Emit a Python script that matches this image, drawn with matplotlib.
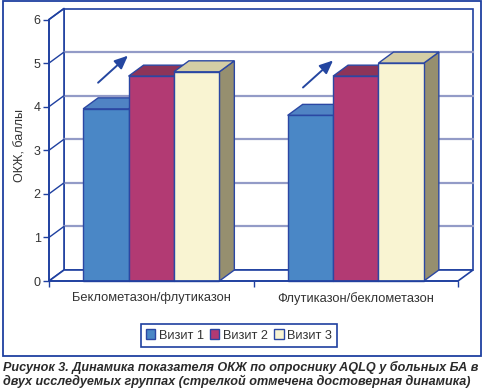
import matplotlib
matplotlib.use('Agg')
import matplotlib.pyplot as plt
from matplotlib.patches import Polygon, Rectangle, Patch

plt.rcParams['font.family'] = ['Liberation Sans', 'DejaVu Sans']

# data
groups = ['Беклометазон/флутиказон', 'Флутиказон/беклометазон']
visits = ['Визит 1', 'Визит 2', 'Визит 3']
visit1 = [3.95, 3.8]
visit2 = [4.7, 4.7]
visit3 = [4.8, 5.0]
y_ticks = [0, 1, 2, 3, 4, 5, 6]
y_label = 'ОКЖ, баллы'
caption = ('Рисунок 3. Динамика показателя ОКЖ по опроснику AQLQ у больных БА в\n'
           'двух исследуемых группах (стрелкой отмечена достоверная динамика)')

# arrows marking the significant change (data coords: tail, head)
arrow_xy = [((0.24, 4.55), (0.386, 5.17)),
            ((1.242, 4.44), (1.389, 5.06))]

C_FRONT = ['#4A87C6', '#B23A73', '#F9F4D2']
C_TOP = ['#5083C4', '#8D3459', '#D4CDA5']
C_SIDE = ['#3F6FA8', '#7A2C4E', '#968F6F']
EDGE = '#2B47A3'
AXC = '#1F40A0'
GRIDC = '#939BC7'
TXT = '#333333'

W, H = 484, 391
fig = plt.figure(figsize=(W / 100, H / 100), dpi=100)
# front plane of the 3D box, in pixels: x 49..458, y(0)=281, y(6)=19.5
ax = fig.add_axes([49 / W, 1 - 281 / H, 409 / W, 261.5 / H])
ax.set_xlim(0, 2)
ax.set_ylim(0, 6)
ax.patch.set_alpha(0)

DX = 15 / 409 * 2      # depth offset, data units
DY = 11 / 43.6
ymax = y_ticks[-1]
nx = len(groups)

# back wall
ax.add_patch(Rectangle((DX, DY), nx, ymax, facecolor='white', edgecolor=AXC,
                       lw=1.2, zorder=0, clip_on=False))
# left wall + floor
ax.add_patch(Polygon([(0, 0), (DX, DY), (DX, ymax + DY), (0, ymax)], closed=True,
                     facecolor='white', edgecolor=AXC, lw=1.2, zorder=0.5, clip_on=False))
ax.add_patch(Polygon([(0, 0), (nx, 0), (nx + DX, DY), (DX, DY)], closed=True,
                     facecolor='white', edgecolor=AXC, lw=1.2, zorder=0.5, clip_on=False))
for v in y_ticks[1:-1]:
    ax.plot([DX, nx + DX], [v + DY, v + DY], color=GRIDC, lw=1.6, zorder=1, clip_on=False)
for v in y_ticks[1:]:
    ax.plot([0, DX], [v, v + DY], color=AXC, lw=1.0, zorder=1, clip_on=False)

# bars
bw = 0.222
off = 0.167
for g in range(nx):
    for i, vals in enumerate([visit1, visit2, visit3]):
        v = vals[g]
        x0 = g + off + i * bw
        x1 = x0 + bw
        z = 3 + g * 3 + i
        ax.add_patch(Polygon([(x1, 0), (x1 + DX, DY), (x1 + DX, v + DY), (x1, v)], closed=True,
                             facecolor=C_SIDE[i], edgecolor=EDGE, lw=1.0, zorder=z, clip_on=False))
        ax.add_patch(Polygon([(x0, v), (x1, v), (x1 + DX, v + DY), (x0 + DX, v + DY)], closed=True,
                             facecolor=C_TOP[i], edgecolor=EDGE, lw=1.0, zorder=z, clip_on=False))
        ax.add_patch(Rectangle((x0, 0), bw, v, facecolor=C_FRONT[i], edgecolor=EDGE,
                               lw=1.0, zorder=z + 0.5, clip_on=False))

for (tail, head) in arrow_xy:
    ax.annotate('', xy=head, xytext=tail, zorder=20, annotation_clip=False,
                arrowprops=dict(arrowstyle='-|>,head_length=0.8,head_width=0.35',
                                color='#2446A0', lw=1.4, shrinkA=0, shrinkB=0))

# axes
for s in ['top', 'right']:
    ax.spines[s].set_visible(False)
for s in ['left', 'bottom']:
    ax.spines[s].set_color(AXC)
    ax.spines[s].set_linewidth(1.2)
    ax.spines[s].set_zorder(15)
ax.set_yticks(y_ticks)
ax.set_yticklabels([str(t) for t in y_ticks], fontsize=9, color=TXT)
ax.set_xticks(range(nx + 1))
ax.set_xticklabels([])
ax.tick_params(axis='both', direction='out', length=4, width=1.0, color=AXC, pad=2)
for g, name in enumerate(groups):
    ax.text(g + 0.5, -0.25, name, ha='center', va='top', fontsize=9.3, color=TXT)
ax.set_ylabel(y_label, fontsize=9, color=TXT)
ax.yaxis.set_label_coords(-0.055, 0.52)

handles = [Patch(facecolor=C_FRONT[i], edgecolor=EDGE, lw=1.0) for i in range(3)]
leg = fig.legend(handles, visits, loc='center', bbox_to_anchor=(239 / W, 1 - 335.5 / H),
                 ncol=3, fontsize=9.2, frameon=True, fancybox=False, framealpha=1,
                 handlelength=0.75, handleheight=0.75, handletextpad=0.3,
                 columnspacing=0.45, borderpad=0.4)
leg.get_frame().set_edgecolor(AXC)
leg.get_frame().set_linewidth(1.2)
for t in leg.get_texts():
    t.set_color(TXT)

# outer frame
fig.patches.append(Rectangle((3 / W, 1 - 356 / H), 478 / W, 355 / H, transform=fig.transFigure,
                             facecolor='none', edgecolor=AXC, lw=1.3))
fig.text(3 / W, 1 - 361 / H, caption, ha='left', va='top', fontsize=9.1,
         fontweight='bold', fontstyle='italic', color='#2A2A2A', linespacing=1.05)

fig.savefig('out.png', dpi=100)
